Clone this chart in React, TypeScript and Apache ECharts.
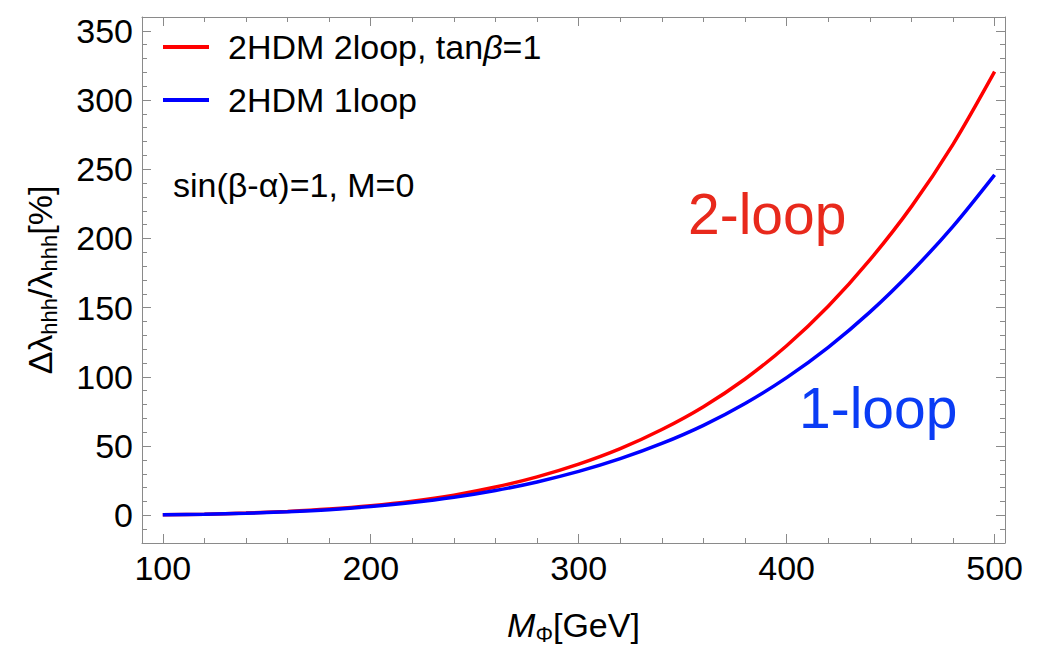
import React, { useEffect, useRef } from "react";
import * as echarts from "echarts";

const xValues = [100, 120, 140, 160, 180, 200, 220, 240, 260, 280, 300, 320, 340, 360, 380, 400, 420, 440, 460, 480, 500];
const twoLoop = [0.4, 0.8, 1.6, 2.8, 4.5, 6.9, 10.2, 14.6, 20.4, 27.8, 37.0, 48.2, 62.0, 78.5, 98.5, 122.5, 151.0, 184.5, 223.0, 268.0, 320.5];
const oneLoop = [0.4, 0.8, 1.5, 2.6, 4.1, 6.3, 9.2, 13.0, 17.9, 24.1, 31.7, 40.9, 51.9, 65.0, 80.8, 99.5, 121.4, 146.8, 176.0, 208.8, 246.0];

const xMajorTicks = [100, 200, 300, 400, 500];
const xMinorTicks = [120, 140, 160, 180, 220, 240, 260, 280, 320, 340, 360, 380, 420, 440, 460, 480];
const yMajorTicks = [0, 50, 100, 150, 200, 250, 300, 350];
const yMinorTicks = [-10, 10, 20, 30, 40, 60, 70, 80, 90, 110, 120, 130, 140, 160, 170, 180, 190, 210, 220, 230, 240, 260, 270, 280, 290, 310, 320, 330, 340];

const seriesNames = ["2HDM 2loop, tan\u03b2=1", "2HDM 1loop"];
const noteText = "sin(\u03b2-\u03b1)=1, M=0";
const twoLoopLabel = "2-loop";
const oneLoopLabel = "1-loop";

const FONT = "'Liberation Sans', Arial, Helvetica, sans-serif";
const FRAME = "#8a8a8a";

export default function App() {
  const ref = useRef<HTMLDivElement>(null);
  useEffect(() => {
    if (!ref.current) return;
    document.body.style.margin = "0";
    const chart = echarts.init(ref.current, undefined, { renderer: "svg", width: 1047, height: 650 });
    const lineStyle = { color: FRAME, width: 1 };
    const xMin = 90, xMax = 505, yMin = -20, yMax = 360;

    const mkX = (position: string, ticks: number[], len: number, labels: boolean, line: boolean, extra: any = {}) => ({
      type: "value",
      position,
      min: xMin,
      max: xMax,
      axisLine: { show: line, onZero: false, lineStyle },
      axisTick: { show: true, inside: true, length: len, customValues: ticks, lineStyle },
      axisLabel: labels
        ? { show: true, customValues: ticks, margin: 8, fontSize: 34, fontFamily: FONT, color: "#000" }
        : { show: false },
      splitLine: { show: false },
      ...extra,
    });
    const mkY = (position: string, ticks: number[], len: number, labels: boolean, line: boolean, extra: any = {}) => ({
      type: "value",
      position,
      min: yMin,
      max: yMax,
      axisLine: { show: line, onZero: false, lineStyle },
      axisTick: { show: true, inside: true, length: len, customValues: ticks, lineStyle },
      axisLabel: labels
        ? { show: true, customValues: ticks, margin: 9, fontSize: 34, fontFamily: FONT, color: "#000" }
        : { show: false },
      splitLine: { show: false },
      ...extra,
    });

    chart.setOption({
      animation: false,
      backgroundColor: "#fff",
      grid: { left: 142, top: 17, width: 863, height: 533, containLabel: false },
      xAxis: [
        mkX("bottom", xMajorTicks, 9, true, true, {
          name: "{i|M}{s|\u03a6}{n|[GeV]}",
          nameLocation: "middle",
          nameGap: 62,
          nameTextStyle: {
            rich: {
              i: { fontSize: 34, fontFamily: FONT, fontStyle: "italic", color: "#000", lineHeight: 40 },
              s: { fontSize: 22, fontFamily: FONT, color: "#000", lineHeight: 14, verticalAlign: "bottom" },
              n: { fontSize: 34, fontFamily: FONT, color: "#000", lineHeight: 40 },
            },
          },
        }),
        mkX("bottom", xMinorTicks, 5, false, false),
        mkX("top", xMajorTicks, 9, false, true),
        mkX("top", xMinorTicks, 5, false, false),
      ],
      yAxis: [
        mkY("left", yMajorTicks, 9, true, true, {
          name: "{m|\u0394\u03bb}{s|hhh}{m|/\u03bb}{s|hhh}{m|[%]}",
          nameLocation: "middle",
          nameRotate: 90,
          nameGap: 82,
          nameTextStyle: {
            rich: {
              m: { fontSize: 34, fontFamily: FONT, color: "#000", lineHeight: 40 },
              s: { fontSize: 22, fontFamily: FONT, color: "#000", lineHeight: 14, verticalAlign: "bottom" },
            },
          },
        }),
        mkY("left", yMinorTicks, 5, false, false),
        mkY("right", yMajorTicks, 9, false, true),
        mkY("right", yMinorTicks, 5, false, false),
      ],
      legend: {
        show: true,
        orient: "vertical",
        left: 163,
        top: 30,
        padding: 0,
        itemGap: 19,
        itemWidth: 46,
        itemHeight: 4,
        icon: "rect",
        data: seriesNames,
        formatter: (name: string) =>
          name === seriesNames[0] ? "{n|2HDM 2loop, tan}{i|\u03b2}{n|=1}" : "{n|" + name + "}",
        textStyle: {
          padding: [0, 0, 0, 14],
          rich: {
            n: { fontSize: 34, fontFamily: FONT, color: "#000", lineHeight: 40 },
            i: { fontSize: 34, fontFamily: FONT, fontStyle: "italic", color: "#000", lineHeight: 40 },
          },
        },
      },
      series: [
        {
          name: seriesNames[0],
          type: "line",
          xAxisIndex: 0,
          yAxisIndex: 0,
          data: xValues.map((x, i) => [x, twoLoop[i]]),
          smooth: 0.3,
          showSymbol: false,
          symbol: "none",
          color: "#ff0000",
          lineStyle: { color: "#ff0000", width: 3.5 },
          z: 3,
        },
        {
          name: seriesNames[1],
          type: "line",
          xAxisIndex: 0,
          yAxisIndex: 0,
          data: xValues.map((x, i) => [x, oneLoop[i]]),
          smooth: 0.3,
          showSymbol: false,
          symbol: "none",
          color: "#0000ff",
          lineStyle: { color: "#0000ff", width: 3.5 },
          z: 4,
        },
      ],
      graphic: [
        {
          type: "text",
          x: 173,
          y: 185,
          style: { text: noteText, fill: "#000", fontSize: 34, fontFamily: FONT, verticalAlign: "middle", align: "left" },
        },
        {
          type: "text",
          x: 688,
          y: 214,
          style: { text: twoLoopLabel, fill: "#e8291c", fontSize: 57, fontFamily: FONT, verticalAlign: "middle", align: "left" },
        },
        {
          type: "text",
          x: 799,
          y: 408,
          style: { text: oneLoopLabel, fill: "#0a3cf5", fontSize: 57, fontFamily: FONT, verticalAlign: "middle", align: "left" },
        },
      ],
    });
    return () => chart.dispose();
  }, []);
  return <div ref={ref} style={{ width: 1047, height: 650, background: "#fff" }} />;
}
